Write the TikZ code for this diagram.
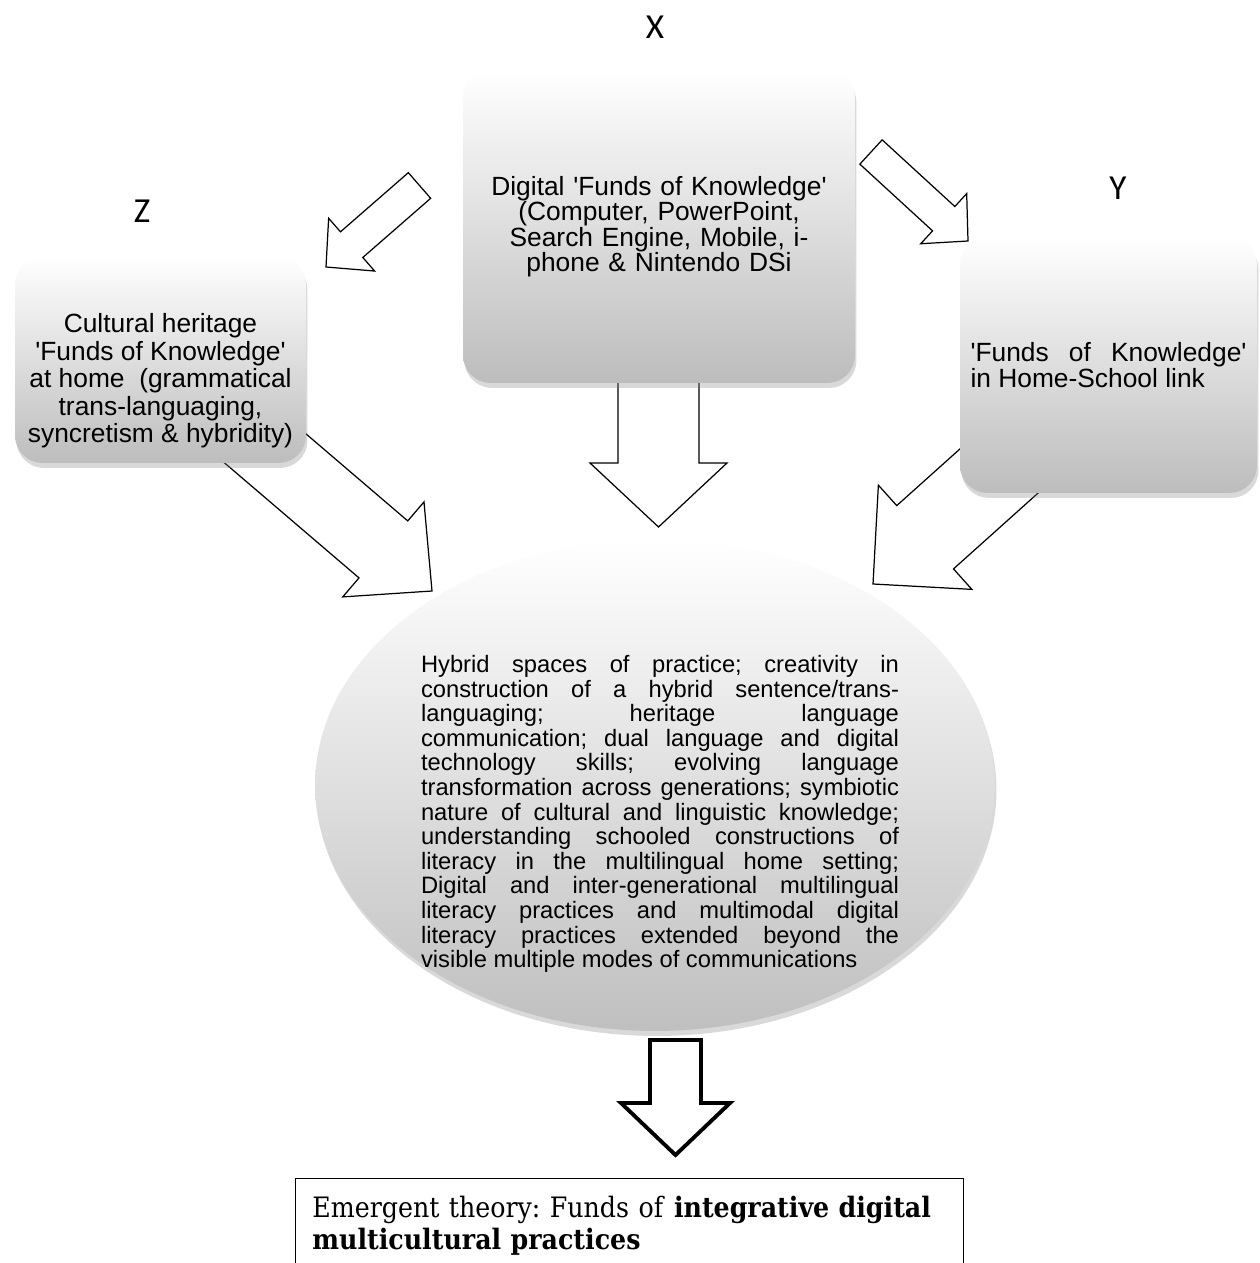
\documentclass[tikz,border=0pt]{standalone}
\usepackage{fontspec}
\setmainfont{Liberation Sans}
\newfontfamily\labelfont{Carlito}
\newfontfamily\theoryfont{DejaVu Serif}[FakeStretch=0.9]
\usetikzlibrary{shapes.geometric, calc, shadows, backgrounds}
\hyphenpenalty=10000
\tolerance=10000
\frenchspacing
\newcommand{\apos}{\textquotesingle}
% block arrow: [style] tail, tip, shaft half width, head half width, head length (px)
\newcommand{\blockarrow}[6][]{%
  \coordinate (#2-hb) at ($(#3)!#6*0.02cm!(#2)$);
  \draw[blockarr,#1] ($(#2)!#4*0.02cm!90:(#3)$) -- ($(#2-hb)!#4*0.02cm!90:(#3)$)
    -- ($(#2-hb)!#5*0.02cm!90:(#3)$) -- (#3)
    -- ($(#2-hb)!#5*0.02cm!-90:(#3)$) -- ($(#2-hb)!#4*0.02cm!-90:(#3)$)
    -- ($(#2)!#4*0.02cm!-90:(#3)$) -- cycle;
}

\begin{document}
\begin{tikzpicture}[
    x=0.02cm, y=-0.02cm,
    fkbox/.style={rectangle, rounded corners=0.55cm, draw=none, top color=white, bottom color=black!26,
      drop shadow={opacity=0.3, shadow xshift=0.03cm, shadow yshift=-0.1cm},
      align=center, font=\fontsize{15}{14.5}\selectfont},
    hybrid/.style={ellipse, draw=none, top color=white, bottom color=black!25, inner sep=0pt,
      drop shadow={opacity=0.3, shadow xshift=0.03cm, shadow yshift=-0.1cm}},
    lbl/.style={font=\labelfont\fontsize{20}{20}\selectfont, inner sep=0pt},
    blockarr/.style={draw=black, fill=white, line width=0.7pt, line join=miter},
    theorybox/.style={rectangle, draw=black, line width=0.7pt, fill=white, anchor=north west}
]
\useasboundingbox (0,0) rectangle (1259,1263);

% labels
\node[lbl] (labx) at (655,27) {X};
\node[lbl] (laby) at (1118,188) {Y};
\node[lbl] (labz) at (142,211) {Z};

% funds of knowledge boxes
\node[fkbox, minimum width=7.84cm, minimum height=6.26cm, text width=7.2cm] (xbox) at (659,226.5)
  {Digital \apos Funds of Knowledge\apos\\(Computer, PowerPoint,\\Search Engine, Mobile, i-\\phone \& Nintendo DSi};
\node[fkbox, minimum width=5.82cm, minimum height=4.12cm] (zbox) at (160.5,360) {};
\node[align=center, font=\fontsize{15}{15.6}\selectfont, inner sep=0pt] (ztext) at (160.5,381)
  {Cultural heritage\\\apos Funds of Knowledge\apos\\at home\ \ (grammatical\\trans-languaging,\\syncretism \& hybridity)};
\node[fkbox, minimum width=5.94cm, minimum height=5.12cm, text width=5.52cm, inner xsep=0.21cm, align=justify] (ybox) at (1108.5,365)
  {\apos Funds of Knowledge\apos\linebreak in Home-School link};

% hybrid spaces
\node[hybrid, minimum width=13.6cm, minimum height=9.84cm] (hyb) at (655,785) {};
\node[text width=9.56cm, align=justify, inner sep=0pt, font=\fontsize{13.5}{14}\selectfont] (hybtxt) at (660,814)
  {Hybrid spaces of practice; creativity in\linebreak
   construction of a hybrid sentence/trans-\linebreak
   languaging; heritage language\linebreak
   communication; dual language and digital\linebreak
   technology skills; evolving language\linebreak
   transformation across generations; symbiotic\linebreak
   nature of cultural and linguistic knowledge;\linebreak
   understanding schooled constructions of\linebreak
   literacy in the multilingual home setting;\linebreak
   Digital and inter-generational multilingual\linebreak
   literacy practices and multimodal digital\linebreak
   literacy practices extended beyond the\linebreak
   visible multiple modes of communications};

% emergent theory
\node[theorybox, minimum width=13.36cm, minimum height=3cm] (theory) at (295,1178) {};
\node[anchor=north west, inner sep=0pt, text width=13cm, align=left,
  font=\theoryfont\fontsize{16}{18}\selectfont] (theorytxt) at (312,1196)
  {Emergent theory: Funds of \textbf{integrative digital}\\\textbf{multicultural practices}};

% arrows
\begin{pgfonlayer}{background}
\coordinate (xz0) at (419.5,185.5); \coordinate (xz1) at (326,267);
\coordinate (xy0) at (871,152);     \coordinate (xy1) at (968,241);
\coordinate (xh0) at (658.5,300);   \coordinate (xh1) at (658.5,527);
\coordinate (zh0) at (204,396);     \coordinate (zh1) at (432,591);
\coordinate (yh0) at (1096,384);    \coordinate (yh1) at (873,584);
\coordinate (ht0) at (675.5,1040);  \coordinate (ht1) at (675.5,1155);
\blockarrow{xz0}{xz1}{17}{35}{34}
\blockarrow{xy0}{xy1}{16.5}{34}{33}
\blockarrow{xh0}{xh1}{40.5}{68.5}{64}
\blockarrow{zh0}{zh1}{37.5}{62.5}{64}
\blockarrow{yh0}{yh1}{42.5}{70}{70}
\blockarrow[line width=2.2pt]{ht0}{ht1}{25.5}{54.5}{52}
\end{pgfonlayer}
\end{tikzpicture}
\end{document}
